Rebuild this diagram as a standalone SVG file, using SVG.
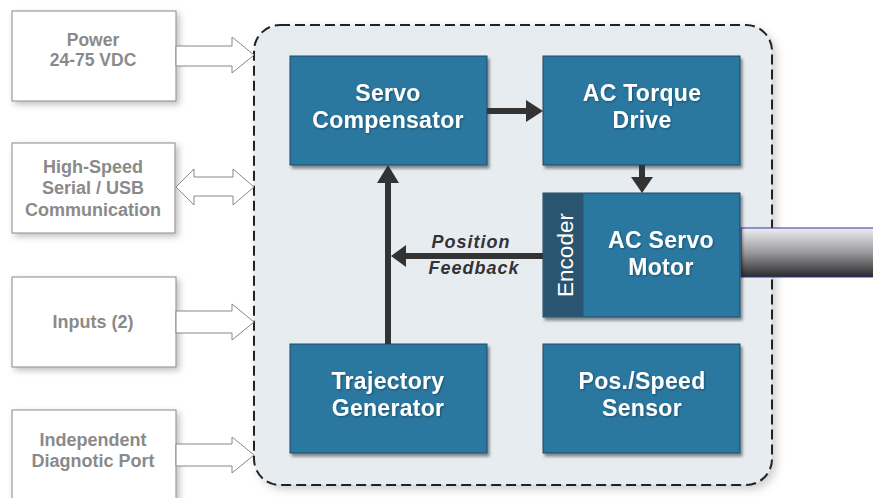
<svg xmlns="http://www.w3.org/2000/svg" width="873" height="498" viewBox="0 0 873 498">
<defs>
<filter id="soft" x="-10%" y="-10%" width="130%" height="130%"><feDropShadow dx="3" dy="3" stdDeviation="3" flood-color="#000" flood-opacity="0.25"/></filter>
<filter id="hard" x="-10%" y="-10%" width="130%" height="130%"><feDropShadow dx="2" dy="3" stdDeviation="1.5" flood-color="#000" flood-opacity="0.45"/></filter>
<filter id="cont" x="-10%" y="-10%" width="130%" height="130%"><feDropShadow dx="4" dy="4" stdDeviation="5" flood-color="#000" flood-opacity="0.2"/></filter>
<filter id="ts" x="-10%" y="-20%" width="130%" height="150%"><feDropShadow dx="1" dy="1" stdDeviation="1" flood-color="#000" flood-opacity="0.35"/></filter>
<linearGradient id="shaft" x1="0" y1="0" x2="0" y2="1">
<stop offset="0" stop-color="#eeeef2"/><stop offset="0.5" stop-color="#9a9a9e"/><stop offset="1" stop-color="#2a2a2c"/>
</linearGradient>
</defs>
<style>
.ext{fill:#fff;stroke:#888;stroke-width:1}
.extt{font-family:"Liberation Sans",Arial,sans-serif;font-weight:bold;font-size:18px;fill:#8a8a8a;text-anchor:middle}
.sm{font-size:17.5px}
.blk{fill:#2a78a0;stroke:#1f4a66;stroke-width:1}
.blkt{font-family:"Liberation Sans",Arial,sans-serif;font-weight:bold;font-size:23px;letter-spacing:0.3px;fill:#fff;text-anchor:middle}
.conn{stroke:#333;stroke-width:6;fill:none}
.fb{font-family:"Liberation Sans",Arial,sans-serif;font-weight:bold;font-style:italic;font-size:18px;letter-spacing:1px;fill:#333;text-anchor:middle}
</style>
<rect width="873" height="498" fill="#fff"/>
<g id="container">
<rect x="254" y="25" width="518" height="460" rx="26" fill="#e7ecf1" filter="url(#cont)"/>
<rect x="254" y="25" width="518" height="460" rx="26" fill="none" stroke="#222" stroke-width="2" stroke-dasharray="10,5"/>
</g>
<g id="shaft-g">
<rect x="741" y="228" width="140" height="49" fill="url(#shaft)" stroke="#33339a" stroke-width="1"/>
</g>
<g id="power">
<rect class="ext" x="12" y="11" width="164" height="90" filter="url(#soft)"/>
<text class="extt sm" x="93" y="46">Power</text>
<text class="extt sm" x="93" y="66">24-75 VDC</text>
</g>
<g id="serial">
<rect class="ext" x="12" y="143" width="163" height="90" filter="url(#soft)"/>
<text class="extt" x="93" y="173">High-Speed</text>
<text class="extt" x="93" y="194">Serial / USB</text>
<text class="extt" x="93" y="216">Communication</text>
</g>
<g id="inputs">
<rect class="ext" x="12" y="277" width="164" height="90" filter="url(#soft)"/>
<text class="extt" x="93" y="328">Inputs (2)</text>
</g>
<g id="diag">
<rect class="ext" x="12" y="410" width="164" height="100" filter="url(#soft)"/>
<text class="extt" x="93" y="446">Independent</text>
<text class="extt" x="93" y="467">Diagnotic Port</text>
</g>
<g id="ext-arrows">
<polygon class="ext" points="176,46 232,46 232,37 254,55 232,73 232,66 176,66"/>
<polygon class="ext" points="176,187 194,169 194,177 233,177 233,169 254,187 233,205 233,196 194,196 194,205"/>
<polygon class="ext" points="176,311 232,311 232,304 254,322 232,340 232,333 176,333"/>
<polygon class="ext" points="176,444 232,444 232,437 254,455 232,473 232,466 176,466"/>
</g>
<g id="servo">
<rect class="blk" x="290" y="56" width="197" height="109" filter="url(#hard)"/>
<text class="blkt" x="388" y="101" filter="url(#ts)">Servo</text>
<text class="blkt" x="388" y="128" filter="url(#ts)">Compensator</text>
</g>
<g id="torque">
<rect class="blk" x="543" y="56" width="197" height="109" filter="url(#hard)"/>
<text class="blkt" x="642" y="101" filter="url(#ts)">AC Torque</text>
<text class="blkt" x="642" y="128" filter="url(#ts)">Drive</text>
</g>
<g id="motor">
<rect class="blk" x="543" y="193" width="197" height="124" filter="url(#hard)"/>
<rect x="543.5" y="193.5" width="40" height="123" fill="#2a5570"/>
<text x="573" y="255" transform="rotate(-90 573 255)" font-family="'Liberation Sans',Arial,sans-serif" font-size="22.5" fill="#fff" text-anchor="middle">Encoder</text>
<text class="blkt" x="661" y="248" filter="url(#ts)">AC Servo</text>
<text class="blkt" x="661" y="275" filter="url(#ts)">Motor</text>
</g>
<g id="trajectory">
<rect class="blk" x="290" y="344" width="197" height="109" filter="url(#hard)"/>
<text class="blkt" x="388" y="389" filter="url(#ts)">Trajectory</text>
<text class="blkt" x="388" y="416" filter="url(#ts)">Generator</text>
</g>
<g id="sensor">
<rect class="blk" x="543" y="344" width="197" height="109" filter="url(#hard)"/>
<text class="blkt" x="642" y="389" filter="url(#ts)">Pos./Speed</text>
<text class="blkt" x="642" y="416" filter="url(#ts)">Sensor</text>
</g>
<g id="connectors">
<line class="conn" x1="487" y1="111" x2="528" y2="111"/>
<polygon points="526,100 543,111 526,122" fill="#333"/>
<line class="conn" x1="642" y1="165" x2="642" y2="178"/>
<polygon points="631,177 653,177 642,193" fill="#333"/>
<line class="conn" x1="388" y1="344" x2="388" y2="180"/>
<polygon points="377,183 399,183 388,165" fill="#333"/>
<line class="conn" x1="543" y1="256" x2="404" y2="256"/>
<polygon points="406,245 406,267 391,256" fill="#333"/>
<text class="fb" x="471" y="248">Position</text>
<text class="fb" x="474" y="274">Feedback</text>
</g>
</svg>
